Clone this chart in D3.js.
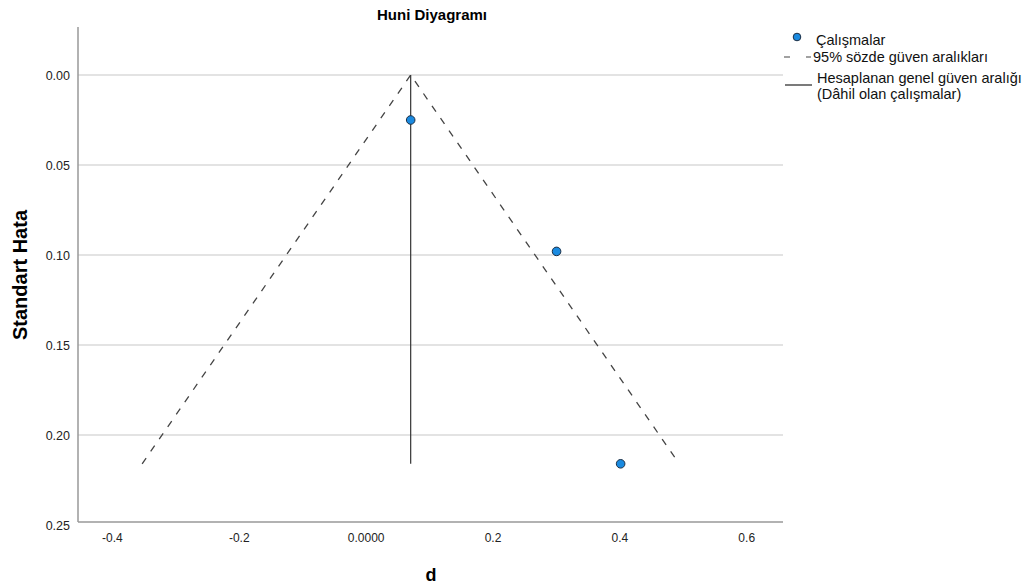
<!DOCTYPE html>
<html lang="tr">
<head>
<meta charset="UTF-8">
<title>Huni Diyagramı</title>
<script src="https://d3js.org/d3.v7.min.js"></script>
<style>
  body { margin: 0; background: #fff; font-family: "Liberation Sans", Arial, sans-serif; }
  .grid line { stroke: #c8c8c8; stroke-width: 1.2; }
  .tick text { fill: #222; }
</style>
</head>
<body>
<div id="chart"></div>
<script>
// study effect sizes and standard errors
const studyD = [0.071, 0.301, 0.402];
const studySE = [0.025, 0.098, 0.216];
// pooled estimate and max SE for funnel
const pooledD = 0.071;
const maxSE = 0.216;
const xTicks = [-0.4, -0.2, 0, 0.2, 0.4, 0.6];
const yTicks = [0, 0.05, 0.10, 0.15, 0.20, 0.25];
const gridTicks = [0, 0.05, 0.10, 0.15, 0.20];

const W = 1035, H = 587;
const plotL = 78, plotR = 783, plotT = 27, plotB = 522;

const svg = d3.select("#chart").append("svg").attr("width", W).attr("height", H);

const x = d3.scaleLinear().domain([-0.4535, 0.658]).range([plotL, plotR]);
const y = d3.scaleLinear().domain([0, 0.25]).range([75, 525]);

// gridlines
svg.append("g").attr("class", "grid")
  .selectAll("line").data(gridTicks).enter().append("line")
  .attr("x1", plotL).attr("x2", plotR)
  .attr("y1", d => y(d)).attr("y2", d => y(d));

// axes
const yAxis = svg.append("g").attr("transform", `translate(${plotL},0)`)
  .call(d3.axisLeft(y).tickValues(yTicks).tickSize(0).tickPadding(8).tickFormat(d3.format(".2f")));
yAxis.select(".domain").attr("d", `M0,${plotT}V${plotB}`).attr("stroke", "#999").attr("stroke-width", 1.5);
yAxis.selectAll(".tick text").attr("font-size", 12.5);

const xAxis = svg.append("g").attr("transform", `translate(0,${plotB})`)
  .call(d3.axisBottom(x).tickValues(xTicks).tickSize(0).tickPadding(11)
    .tickFormat(d => d === 0 ? "0.0000" : d.toFixed(1)));
xAxis.select(".domain").attr("d", `M${plotL},0H${plotR}`).attr("stroke", "#999").attr("stroke-width", 1.5);
xAxis.selectAll(".tick text").attr("font-size", 12);
svg.selectAll(".tick text").attr("font-family", "'Liberation Sans', Arial, sans-serif");

// funnel lines
const z = 1.96;
const funnel = [[pooledD - z * maxSE, maxSE], [pooledD, 0], [pooledD + z * maxSE, maxSE]];
svg.append("path")
  .attr("d", d3.line().x(d => x(d[0])).y(d => y(d[1]))(funnel))
  .attr("fill", "none").attr("stroke", "#444").attr("stroke-width", 1.3)
  .attr("stroke-dasharray", "7,8");

// pooled estimate
svg.append("line")
  .attr("x1", x(pooledD)).attr("x2", x(pooledD))
  .attr("y1", y(0)).attr("y2", y(maxSE))
  .attr("stroke", "#333").attr("stroke-width", 1.2);

// studies
svg.append("g").selectAll("circle").data(studyD).enter().append("circle")
  .attr("cx", d => x(d)).attr("cy", (d, i) => y(studySE[i]))
  .attr("r", 4.3).attr("fill", "#1a8ae0").attr("stroke", "#1c2f45").attr("stroke-width", 1);

// titles
svg.append("text").attr("x", 432).attr("y", 20).attr("text-anchor", "middle")
  .attr("font-size", 15).attr("font-weight", "bold").text("Huni Diyagramı");
svg.append("text").attr("transform", "translate(27,275) rotate(-90)").attr("text-anchor", "middle")
  .attr("font-size", 20).attr("font-weight", "bold").text("Standart Hata");
svg.append("text").attr("x", 431).attr("y", 581).attr("text-anchor", "middle")
  .attr("font-size", 18).attr("font-weight", "bold").text("d");

// legend
const lg = svg.append("g").attr("font-size", 14.5).attr("fill", "#111");
lg.append("circle").attr("cx", 797).attr("cy", 37).attr("r", 3.8)
  .attr("fill", "#1a8ae0").attr("stroke", "#1c2f45");
lg.append("text").attr("x", 816).attr("y", 45).text("Çalışmalar");
lg.append("line").attr("x1", 784).attr("x2", 811).attr("y1", 57).attr("y2", 57)
  .attr("stroke", "#444").attr("stroke-width", 1.2).attr("stroke-dasharray", "6,16,5");
lg.append("text").attr("x", 813).attr("y", 62).text("95% sözde güven aralıkları");
lg.append("line").attr("x1", 785).attr("x2", 812).attr("y1", 85).attr("y2", 85)
  .attr("stroke", "#222").attr("stroke-width", 1.2);
lg.append("text").attr("x", 817).attr("y", 83).text("Hesaplanan genel güven aralığı");
lg.append("text").attr("x", 817).attr("y", 99).text("(Dâhil olan çalışmalar)");
</script>
</body>
</html>
